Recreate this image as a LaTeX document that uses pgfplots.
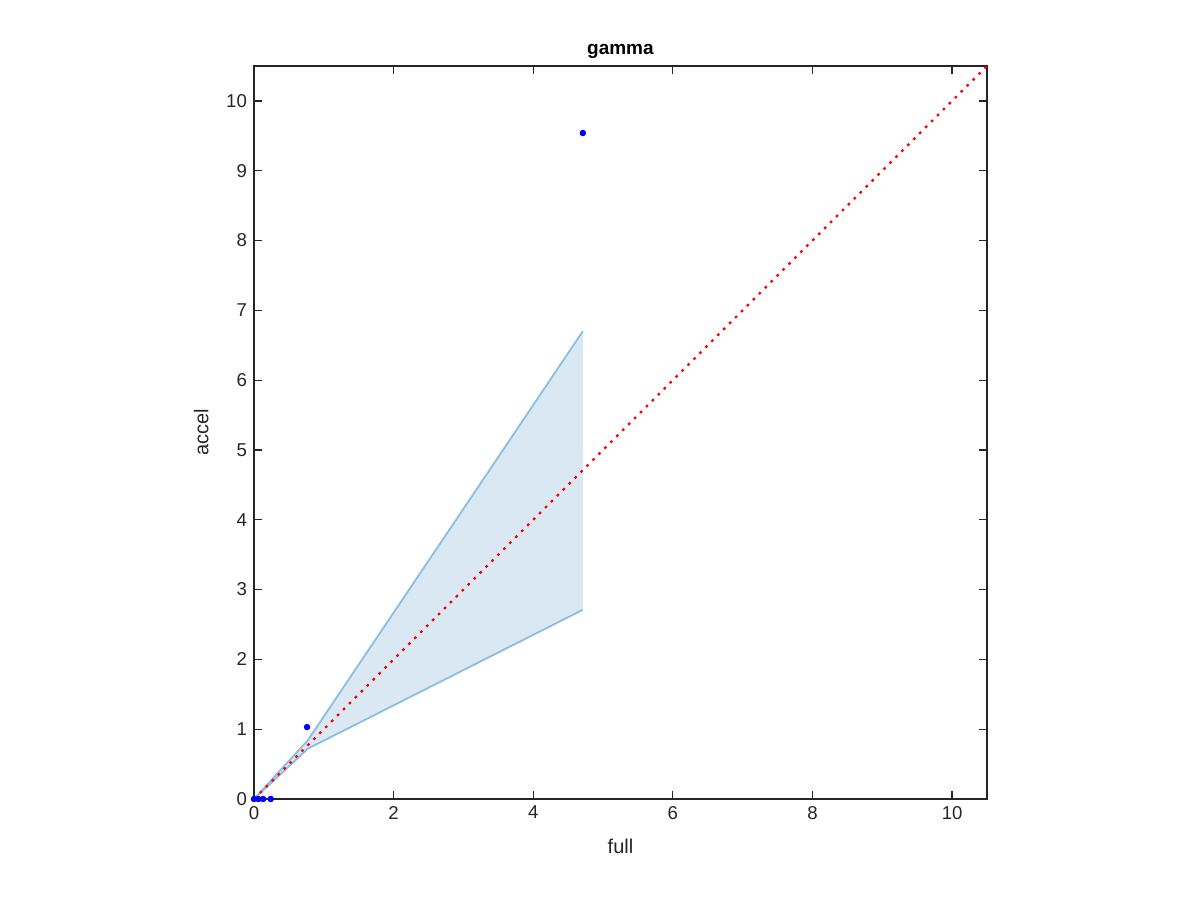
\documentclass[border=0pt]{standalone}
\usepackage{pgfplots}
\pgfplotsset{compat=1.18}
\usepackage{fontspec}
\setmainfont{Liberation Sans}
\definecolor{axgray}{RGB}{38,38,38}
\definecolor{bandfill}{RGB}{218,232,244}
\definecolor{bandline}{RGB}{138,190,226}
\begin{document}
\begin{tikzpicture}
\path[use as bounding box] (-127pt,-50.5pt) rectangle (473pt,399.5pt);
\begin{axis}[
  at={(0,0)}, anchor=south west,
  scale only axis, width=366.5pt, height=366.5pt,
  xmin=0, xmax=10.5, ymin=0, ymax=10.5,
  xtick={0,2,...,10}, ytick={0,1,...,10},
  tick align=inside, major tick length=4pt,
  axis line style={axgray, line width=0.6pt},
  every tick/.style={axgray, line width=0.6pt},
  tick label style={font=\fontsize{9.3}{10}\selectfont, text=axgray},
  /pgf/number format/assume math mode=true,
  title={\textbf{gamma}}, title style={font=\fontsize{9.5}{11}\selectfont, yshift=-6pt},
  xlabel={full}, ylabel={accel},
  label style={font=\fontsize{10}{12}\selectfont, text=axgray},
  xlabel style={yshift=-3pt}, ylabel style={yshift=2pt},
  clip=false,
]
\addplot[fill=bandfill, draw=none] coordinates {(0,0) (0.77,0.84) (4.71,6.70) (4.71,2.71) (0.77,0.72) (0,0)} -- cycle;
\addplot[bandline, line width=0.9pt] coordinates {(0,0) (0.77,0.84) (4.71,6.70)};
\addplot[bandline, line width=0.9pt] coordinates {(0,0) (0.77,0.72) (4.71,2.71)};
\addplot[red, line width=1.1pt, dash pattern=on 1.3pt off 2.9pt] coordinates {(0,0) (10.5,10.5)};
\addplot[only marks, mark=*, mark size=1.4pt, blue, mark options={draw=blue, fill=blue}] coordinates {
(0,0) (0.06,0) (0.13,0) (0.24,0) (0.76,1.03) (4.71,9.54)};
\end{axis}
\end{tikzpicture}
\end{document}
